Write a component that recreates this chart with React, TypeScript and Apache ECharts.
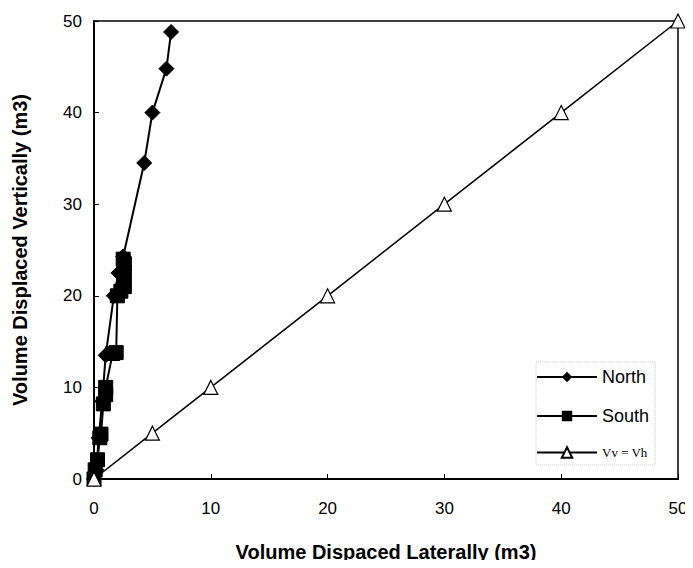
import React, { useEffect, useRef } from "react";
import * as echarts from "echarts";

const northData: [number, number][] = [
  [0, 0], [0.2, 1], [0.4, 4.5], [0.7, 8.5], [1.0, 13.5], [1.7, 20], [2.1, 22.5],
  [2.5, 24.3], [4.3, 34.5], [5.0, 40], [6.2, 44.8], [6.6, 48.8],
];
const southData: [number, number][] = [
  [0, 0], [0.1, 1], [0.3, 2.1], [0.5, 4.5], [0.6, 4.9], [0.8, 8.2], [1.0, 9.2],
  [1.0, 10], [1.6, 13.7], [1.9, 13.8], [2.0, 20], [2.3, 20.5], [2.6, 21],
  [2.6, 22.5], [2.6, 23.5], [2.5, 24],
];
const equalData: [number, number][] = [
  [0, 0], [5, 5], [10, 10], [20, 20], [30, 30], [40, 40], [50, 50],
];
const xTicks = [0, 10, 20, 30, 40, 50];
const yTicks = [0, 10, 20, 30, 40, 50];

export default function App() {
  const ref = useRef<HTMLDivElement>(null);
  useEffect(() => {
    if (!ref.current) return;
    const chart = echarts.init(ref.current, null, { renderer: "svg" });
    const font = "Liberation Sans, Arial, sans-serif";
    chart.setOption({
      animation: false,
      backgroundColor: "#fff",
      grid: {
        left: 94, right: 15, top: 21, bottom: 89,
        show: true, borderColor: "#000", borderWidth: 1.5,
      },
      legend: {
        orient: "vertical",
        left: 536,
        top: 362,
        itemWidth: 60,
        itemHeight: 13,
        itemGap: 21,
        padding: [6, 6, 6, 0],
        borderColor: "#ccc",
        borderWidth: 1,
        borderType: "dotted",
        data: [
          { name: "North", textStyle: { fontFamily: font, fontSize: 18, color: "#000" } },
          { name: "South", textStyle: { fontFamily: font, fontSize: 18, color: "#000" } },
          { name: "Vv = Vh", textStyle: { fontFamily: "Liberation Serif, Times New Roman, serif", fontSize: 13, color: "#000" } },
        ],
      },
      xAxis: {
        type: "value",
        min: 0, max: 50, interval: 10,
        name: "Volume Dispaced Laterally (m3)",
        nameLocation: "middle",
        nameGap: 63,
        nameTextStyle: { fontFamily: font, fontSize: 20, fontWeight: "bold", color: "#000" },
        axisLine: { show: true, lineStyle: { color: "#000", width: 2 } },
        axisTick: { show: true, inside: true, length: 5, lineStyle: { color: "#000" } },
        axisLabel: {
          margin: 21, fontFamily: font, fontSize: 17, color: "#000",
          formatter: (v: number) => (xTicks.includes(v) ? String(v) : ""),
        },
        splitLine: { show: false },
      },
      yAxis: {
        type: "value",
        min: 0, max: 50, interval: 10,
        name: "Volume Displaced Vertically (m3)",
        nameLocation: "middle",
        nameGap: 64,
        nameTextStyle: { fontFamily: font, fontSize: 20, fontWeight: "bold", color: "#000" },
        axisLine: { show: true, lineStyle: { color: "#000", width: 2 } },
        axisTick: { show: true, inside: true, length: 5, lineStyle: { color: "#000" } },
        axisLabel: {
          margin: 12, fontFamily: font, fontSize: 17, color: "#000",
          formatter: (v: number) => (yTicks.includes(v) ? String(v) : ""),
        },
        splitLine: { show: false },
      },
      series: [
        {
          name: "North", type: "line", data: northData,
          symbol: "diamond", symbolSize: 15,
          lineStyle: { color: "#000", width: 2 },
          itemStyle: { color: "#000", borderColor: "#000" },
          z: 3,
        },
        {
          name: "South", type: "line", data: southData,
          symbol: "rect", symbolSize: 14,
          lineStyle: { color: "#000", width: 2 },
          itemStyle: { color: "#000", borderColor: "#000" },
          z: 2,
        },
        {
          name: "Vv = Vh", type: "line", data: equalData,
          symbol: "triangle", symbolSize: 14,
          lineStyle: { color: "#000", width: 1.5 },
          itemStyle: { color: "#fff", borderColor: "#000", borderWidth: 1.2 },
          z: 4,
        },
      ],
    });
    return () => chart.dispose();
  }, []);
  return <div ref={ref} style={{ width: 693, height: 568, margin: -8 }} />;
}
